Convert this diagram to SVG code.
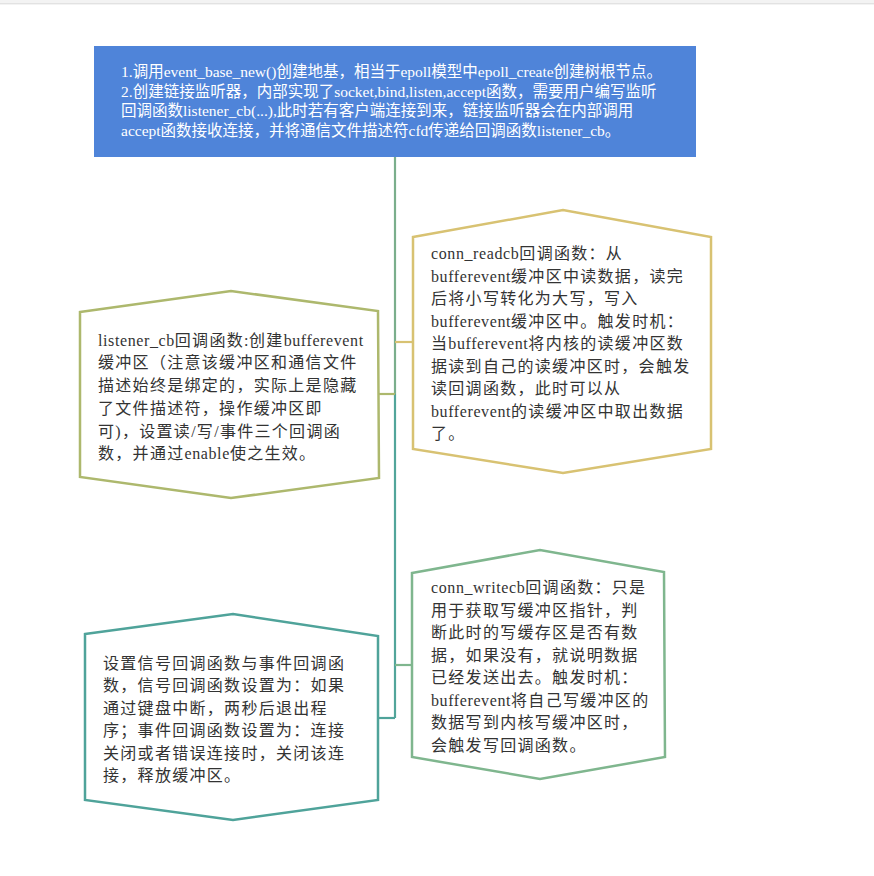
<svg xmlns="http://www.w3.org/2000/svg" width="874" height="876" viewBox="0 0 874 876">
<defs>
<style>
.node{fill:#ffffff;stroke-width:2.5;stroke-linejoin:miter}
.t{font-family:"Liberation Serif","Noto Sans CJK SC",serif;font-size:16px;letter-spacing:1.3px;fill:#333333}
.l{letter-spacing:0.6px}
.top{font-family:"Liberation Serif","Noto Sans CJK SC",serif;font-size:15.5px;fill:#ffffff}
.c{fill:none;stroke-width:2.2}
</style>
</defs>
<rect x="0" y="0" width="874" height="876" fill="#ffffff"/>
<rect x="0" y="0" width="874" height="5" fill="#f3f3f3"/>
<line x1="0" y1="3.5" x2="874" y2="3.5" stroke="#e2e2e2" stroke-width="1"/>
<g id="connectors">
<path class="c" d="M395,157 V394" stroke="#7aae8c"/>
<path class="c" d="M395,394 V718" stroke="#52a59a"/>
<path class="c" d="M395,342 H413" stroke="#d8c272"/>
<path class="c" d="M395,394 H378" stroke="#adb86d"/>
<path class="c" d="M395,665 H412" stroke="#7fb68e"/>
<path class="c" d="M395,718 H378" stroke="#4fa39a"/>
</g>
<g id="root">
<rect x="94" y="46" width="602" height="111" fill="#4f84d9"/>
<text class="top" x="121" y="77">1.调用event_base_new()创建地基，相当于epoll模型中epoll_create创建树根节点。</text>
<text class="top" x="121" y="96.5">2.创建链接监听器，内部实现了socket,bind,listen,accept函数，需要用户编写监听</text>
<text class="top" x="121" y="116">回调函数listener_cb(...),此时若有客户端连接到来，链接监听器会在内部调用</text>
<text class="top" x="121" y="135.5">accept函数接收连接，并将通信文件描述符cfd传递给回调函数listener_cb。</text>
</g>
<g id="listener">
<polygon class="node" stroke="#adb86d" points="80,312 231,291 378,311 379,478 231,498 80,477"/>
<text class="t" x="98" y="345.5"><tspan class="l">listener_cb</tspan>回调函数<tspan class="l">:</tspan>创建<tspan class="l">bufferevent</tspan></text>
<text class="t" x="98" y="368">缓冲区（注意该缓冲区和通信文件</text>
<text class="t" x="98" y="391">描述始终是绑定的，实际上是隐藏</text>
<text class="t" x="98" y="414">了文件描述符，操作缓冲区即</text>
<text class="t" x="98" y="437">可)，设置读/写/事件三个回调函</text>
<text class="t" x="98" y="459">数，并通过<tspan class="l">enable</tspan>使之生效。</text>
</g>
<g id="readcb">
<polygon class="node" stroke="#d8c272" points="413,237 563,210 711,237 711,449 563,473 413,449"/>
<text class="t" x="431" y="259"><tspan class="l">conn_readcb</tspan>回调函数：从</text>
<text class="t" x="431" y="281.5"><tspan class="l">bufferevent</tspan>缓冲区中读数据，读完</text>
<text class="t" x="431" y="304">后将小写转化为大写，写入</text>
<text class="t" x="431" y="326.5"><tspan class="l">bufferevent</tspan>缓冲区中。触发时机：</text>
<text class="t" x="431" y="349">当<tspan class="l">bufferevent</tspan>将内核的读缓冲区数</text>
<text class="t" x="431" y="371.5">据读到自己的读缓冲区时，会触发</text>
<text class="t" x="431" y="394">读回调函数，此时可以从</text>
<text class="t" x="431" y="416.5"><tspan class="l">bufferevent</tspan>的读缓冲区中取出数据</text>
<text class="t" x="431" y="439">了。</text>
</g>
<g id="writecb">
<polygon class="node" stroke="#7fb68e" points="412,573 540,550 664,572 665,757 540,779 412,757"/>
<text class="t" x="431" y="593"><tspan class="l">conn_writecb</tspan>回调函数：只是</text>
<text class="t" x="431" y="615.5">用于获取写缓冲区指针，判</text>
<text class="t" x="431" y="638">断此时的写缓存区是否有数</text>
<text class="t" x="431" y="660.5">据，如果没有，就说明数据</text>
<text class="t" x="431" y="683">已经发送出去。触发时机：</text>
<text class="t" x="431" y="705.5"><tspan class="l">bufferevent</tspan>将自己写缓冲区的</text>
<text class="t" x="431" y="728">数据写到内核写缓冲区时，</text>
<text class="t" x="431" y="750.5">会触发写回调函数。</text>
</g>
<g id="signal">
<polygon class="node" stroke="#4fa39a" points="85,634 233,614 378,636 378,800 233,820 85,800"/>
<text class="t" x="103" y="668.5">设置信号回调函数与事件回调函</text>
<text class="t" x="103" y="691">数，信号回调函数设置为：如果</text>
<text class="t" x="103" y="713.5">通过键盘中断，两秒后退出程</text>
<text class="t" x="103" y="736">序；事件回调函数设置为：连接</text>
<text class="t" x="103" y="758.5">关闭或者错误连接时，关闭该连</text>
<text class="t" x="103" y="781">接，释放缓冲区。</text>
</g>
</svg>
